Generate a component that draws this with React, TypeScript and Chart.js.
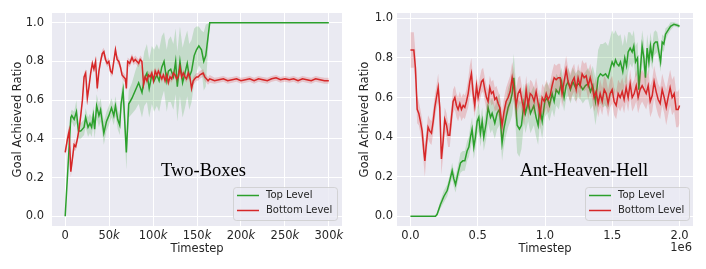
import React, { useEffect, useRef } from 'react';
import { Chart, registerables } from 'chart.js';
Chart.register(...registerables);

// ---------- Left panel: Two-Boxes (x in thousands of timesteps) ----------
const leftTopX = [0, 6.4, 7.5, 10.2, 12.8, 15.1, 17.7, 21.5, 23.3, 26, 28.2, 30.1, 32, 33.5, 35.8, 38.4, 40.3, 44, 47, 49.7, 52.7, 55.3, 57.2, 59.8, 62.1, 63.6, 65.9, 69.6, 72.3, 76, 79.8, 83.6, 87.4, 90, 93, 95.6, 98.6, 101.2, 104.3, 106.9, 109.9, 112.5, 115.6, 117.4, 120.1, 123.1, 125.7, 127.6, 130.6, 133.6, 136.3, 138.9, 141.2, 143.8, 146.8, 149.4, 152.1, 155.1, 157.7, 160, 164.5, 300];
const leftTopY = [0, 0.51, 0.52, 0.5, 0.54, 0.44, 0.44, 0.46, 0.51, 0.46, 0.48, 0.46, 0.52, 0.45, 0.57, 0.52, 0.55, 0.43, 0.49, 0.52, 0.56, 0.52, 0.57, 0.5, 0.47, 0.58, 0.65, 0.33, 0.58, 0.61, 0.65, 0.69, 0.64, 0.71, 0.74, 0.66, 0.73, 0.7, 0.73, 0.7, 0.77, 0.8, 0.7, 0.75, 0.76, 0.72, 0.8, 0.67, 0.8, 0.69, 0.74, 0.79, 0.72, 0.75, 0.83, 0.86, 0.88, 0.86, 0.8, 0.83, 1.0, 1.0];
const leftTopSd = [0, 0.03, 0.03, 0.04, 0.06, 0.04, 0.04, 0.04, 0.05, 0.05, 0.05, 0.05, 0.05, 0.05, 0.06, 0.06, 0.06, 0.06, 0.05, 0.05, 0.05, 0.05, 0.05, 0.05, 0.05, 0.05, 0.06, 0.09, 0.07, 0.08, 0.1, 0.11, 0.13, 0.14, 0.15, 0.15, 0.15, 0.16, 0.16, 0.16, 0.16, 0.15, 0.16, 0.16, 0.17, 0.17, 0.17, 0.18, 0.18, 0.18, 0.18, 0.17, 0.17, 0.16, 0.14, 0.12, 0.1, 0.1, 0.15, 0.16, 0, 0];

const leftBotX = [0, 2.6, 4.5, 6.4, 8.3, 10.2, 12.0, 13.9, 15.8, 17.7, 19.6, 21.5, 23.3, 25.2, 27.1, 29.0, 30.9, 32.7, 34.6, 36.5, 38.4, 40.3, 42.2, 44.0, 45.9, 47.8, 49.7, 51.6, 53.4, 55.3, 57.2, 59.1, 61.0, 62.9, 64.7, 66.6, 68.5, 69.6, 71.1, 73.4, 76.0, 77.9, 79.8, 81.7, 83.6, 85.4, 87.3, 89.2, 91.1, 93.0, 94.9, 96.7, 98.6, 100.5, 102.4, 104.3, 106.1, 108.0, 109.9, 111.8, 113.7, 115.6, 117.4, 119.3, 121.2, 123.1, 125.0, 126.8, 128.7, 130.6, 132.5, 134.4, 136.3, 138.1, 140.0, 141.9, 143.8, 145.7, 147.5, 149.4, 151.3, 153.2, 155.1, 157.0, 158.8, 160.7, 162.6, 164.5, 170, 175, 180, 185, 190, 195, 200, 205, 210, 215, 220, 225, 230, 235, 240, 245, 250, 255, 260, 265, 270, 275, 280, 285, 290, 295, 300];
const leftBotY = [0.33, 0.4, 0.44, 0.23, 0.3, 0.37, 0.36, 0.4, 0.45, 0.52, 0.6, 0.72, 0.74, 0.61, 0.67, 0.74, 0.79, 0.76, 0.8, 0.66, 0.75, 0.8, 0.84, 0.85, 0.81, 0.79, 0.8, 0.75, 0.74, 0.8, 0.86, 0.81, 0.8, 0.77, 0.73, 0.72, 0.71, 0.66, 0.8, 0.79, 0.82, 0.8, 0.81, 0.8, 0.79, 0.81, 0.8, 0.68, 0.72, 0.7, 0.73, 0.72, 0.74, 0.7, 0.75, 0.73, 0.75, 0.73, 0.71, 0.73, 0.7, 0.73, 0.69, 0.72, 0.71, 0.74, 0.73, 0.71, 0.72, 0.77, 0.72, 0.74, 0.72, 0.71, 0.74, 0.72, 0.66, 0.7, 0.71, 0.72, 0.72, 0.73, 0.735, 0.74, 0.72, 0.71, 0.7, 0.71, 0.7, 0.705, 0.71, 0.7, 0.705, 0.71, 0.7, 0.705, 0.71, 0.7, 0.71, 0.705, 0.7, 0.71, 0.715, 0.705, 0.71, 0.705, 0.71, 0.7, 0.71, 0.705, 0.7, 0.71, 0.705, 0.7, 0.7];
const leftBotSd = [0.02, 0.03, 0.03, 0.03, 0.03, 0.03, 0.02, 0.02, 0.02, 0.02, 0.02, 0.02, 0.02, 0.02, 0.02, 0.02, 0.02, 0.02, 0.02, 0.02, 0.02, 0.02, 0.02, 0.02, 0.02, 0.02, 0.02, 0.02, 0.02, 0.02, 0.02, 0.02, 0.02, 0.02, 0.02, 0.02, 0.02, 0.02, 0.02, 0.02, 0.02, 0.02, 0.02, 0.02, 0.02, 0.02, 0.02, 0.02, 0.02, 0.02, 0.02, 0.02, 0.02, 0.02, 0.02, 0.02, 0.02, 0.02, 0.02, 0.02, 0.02, 0.02, 0.02, 0.02, 0.02, 0.02, 0.02, 0.02, 0.02, 0.02, 0.02, 0.02, 0.02, 0.02, 0.02, 0.02, 0.02, 0.02, 0.02, 0.02, 0.02, 0.02, 0.02, 0.02, 0.02, 0.02, 0.02, 0.02, 0.015, 0.015, 0.015, 0.015, 0.015, 0.015, 0.015, 0.015, 0.015, 0.015, 0.015, 0.015, 0.015, 0.015, 0.015, 0.015, 0.015, 0.015, 0.015, 0.015, 0.015, 0.015, 0.015, 0.015, 0.015, 0.015, 0.015];

const leftXTicks = [0, 50, 100, 150, 200, 250, 300];
const yTicks = [0, 0.2, 0.4, 0.6, 0.8, 1.0];

// ---------- Right panel: Ant-Heaven-Hell (x in 1e6 timesteps) ----------
const rightTopX = [0, 0.186, 0.198, 0.223, 0.248, 0.273, 0.292, 0.310, 0.322, 0.335, 0.354, 0.372, 0.389, 0.404, 0.421, 0.434, 0.446, 0.458, 0.471, 0.483, 0.496, 0.508, 0.520, 0.533, 0.545, 0.563, 0.577, 0.595, 0.607, 0.627, 0.644, 0.662, 0.681, 0.694, 0.711, 0.726, 0.743, 0.756, 0.768, 0.781, 0.793, 0.810, 0.825, 0.843, 0.855, 0.875, 0.892, 0.917, 0.934, 0.949, 0.961, 0.979, 0.999, 1.016, 1.033, 1.053, 1.068, 1.083, 1.103, 1.123, 1.142, 1.157, 1.172, 1.189, 1.207, 1.227, 1.246, 1.264, 1.281, 1.301, 1.321, 1.338, 1.355, 1.375, 1.395, 1.412, 1.430, 1.450, 1.469, 1.487, 1.499, 1.512, 1.524, 1.536, 1.549, 1.561, 1.578, 1.593, 1.606, 1.618, 1.633, 1.648, 1.660, 1.673, 1.688, 1.697, 1.710, 1.722, 1.735, 1.747, 1.759, 1.772, 1.784, 1.797, 1.809, 1.821, 1.834, 1.846, 1.859, 1.871, 1.883, 1.896, 1.915, 1.933, 1.958, 1.982, 2.000];
const rightTopY = [0, 0, 0.01, 0.06, 0.1, 0.13, 0.18, 0.23, 0.19, 0.16, 0.22, 0.27, 0.28, 0.28, 0.33, 0.35, 0.4, 0.44, 0.35, 0.4, 0.48, 0.5, 0.42, 0.48, 0.4, 0.47, 0.55, 0.5, 0.52, 0.47, 0.52, 0.54, 0.37, 0.44, 0.5, 0.55, 0.58, 0.62, 0.7, 0.58, 0.46, 0.44, 0.46, 0.57, 0.52, 0.58, 0.52, 0.56, 0.5, 0.46, 0.55, 0.48, 0.58, 0.6, 0.56, 0.62, 0.58, 0.64, 0.62, 0.68, 0.6, 0.66, 0.68, 0.64, 0.68, 0.65, 0.67, 0.66, 0.64, 0.66, 0.67, 0.63, 0.66, 0.58, 0.7, 0.72, 0.71, 0.72, 0.7, 0.75, 0.78, 0.76, 0.79, 0.77, 0.76, 0.78, 0.73, 0.8, 0.76, 0.83, 0.85, 0.83, 0.86, 0.78, 0.8, 0.64, 0.75, 0.86, 0.8, 0.7, 0.85, 0.78, 0.86, 0.8, 0.87, 0.88, 0.88, 0.83, 0.78, 0.88, 0.87, 0.92, 0.94, 0.96, 0.97, 0.965, 0.96];
const rightTopSd = [0, 0, 0.01, 0.02, 0.03, 0.03, 0.03, 0.04, 0.04, 0.04, 0.04, 0.05, 0.05, 0.05, 0.05, 0.05, 0.06, 0.06, 0.06, 0.06, 0.07, 0.07, 0.07, 0.07, 0.07, 0.08, 0.08, 0.08, 0.08, 0.08, 0.08, 0.08, 0.09, 0.09, 0.09, 0.1, 0.1, 0.11, 0.12, 0.12, 0.14, 0.14, 0.12, 0.1, 0.1, 0.1, 0.1, 0.1, 0.1, 0.1, 0.09, 0.09, 0.08, 0.08, 0.08, 0.08, 0.08, 0.08, 0.08, 0.07, 0.07, 0.07, 0.07, 0.07, 0.07, 0.07, 0.07, 0.07, 0.07, 0.07, 0.08, 0.09, 0.1, 0.12, 0.14, 0.15, 0.16, 0.16, 0.16, 0.16, 0.16, 0.16, 0.15, 0.15, 0.15, 0.14, 0.13, 0.12, 0.11, 0.1, 0.08, 0.08, 0.08, 0.08, 0.08, 0.08, 0.08, 0.08, 0.08, 0.08, 0.07, 0.07, 0.07, 0.06, 0.06, 0.06, 0.05, 0.05, 0.05, 0.04, 0.04, 0.03, 0.02, 0.02, 0.01, 0.01, 0.01];

const rightBotX = [0.000, 0.025, 0.037, 0.050, 0.062, 0.074, 0.087, 0.099, 0.107, 0.116, 0.131, 0.144, 0.156, 0.169, 0.181, 0.193, 0.206, 0.218, 0.230, 0.243, 0.255, 0.268, 0.280, 0.292, 0.305, 0.317, 0.330, 0.342, 0.354, 0.367, 0.379, 0.392, 0.404, 0.416, 0.429, 0.441, 0.453, 0.466, 0.478, 0.491, 0.503, 0.515, 0.528, 0.540, 0.553, 0.565, 0.577, 0.590, 0.602, 0.615, 0.627, 0.639, 0.652, 0.664, 0.681, 0.696, 0.711, 0.726, 0.741, 0.756, 0.771, 0.786, 0.800, 0.815, 0.830, 0.845, 0.860, 0.875, 0.890, 0.904, 0.919, 0.934, 0.949, 0.964, 0.979, 0.994, 1.009, 1.023, 1.038, 1.053, 1.068, 1.083, 1.098, 1.113, 1.127, 1.142, 1.157, 1.172, 1.187, 1.202, 1.217, 1.232, 1.246, 1.261, 1.276, 1.291, 1.306, 1.321, 1.336, 1.350, 1.365, 1.380, 1.395, 1.410, 1.425, 1.440, 1.455, 1.469, 1.484, 1.499, 1.514, 1.529, 1.544, 1.559, 1.574, 1.588, 1.603, 1.618, 1.633, 1.648, 1.663, 1.678, 1.692, 1.707, 1.722, 1.737, 1.752, 1.767, 1.782, 1.797, 1.811, 1.826, 1.841, 1.856, 1.871, 1.886, 1.901, 1.915, 1.930, 1.945, 1.960, 1.975, 1.990, 2.000];
const rightBotY = [0.84, 0.84, 0.75, 0.54, 0.52, 0.48, 0.43, 0.33, 0.28, 0.35, 0.45, 0.43, 0.42, 0.48, 0.55, 0.6, 0.65, 0.55, 0.29, 0.38, 0.49, 0.46, 0.41, 0.41, 0.5, 0.58, 0.6, 0.56, 0.54, 0.57, 0.54, 0.56, 0.55, 0.58, 0.62, 0.68, 0.72, 0.62, 0.56, 0.66, 0.6, 0.64, 0.68, 0.69, 0.64, 0.6, 0.58, 0.65, 0.62, 0.63, 0.59, 0.6, 0.57, 0.55, 0.46, 0.53, 0.58, 0.6, 0.63, 0.7, 0.64, 0.56, 0.62, 0.64, 0.58, 0.53, 0.64, 0.56, 0.62, 0.61, 0.58, 0.63, 0.57, 0.51, 0.6, 0.58, 0.62, 0.59, 0.61, 0.66, 0.7, 0.69, 0.7, 0.7, 0.62, 0.68, 0.74, 0.68, 0.65, 0.68, 0.7, 0.64, 0.7, 0.66, 0.72, 0.7, 0.71, 0.66, 0.7, 0.66, 0.6, 0.63, 0.57, 0.62, 0.58, 0.64, 0.62, 0.57, 0.62, 0.64, 0.58, 0.56, 0.62, 0.6, 0.63, 0.59, 0.65, 0.6, 0.67, 0.6, 0.62, 0.66, 0.6, 0.64, 0.66, 0.64, 0.62, 0.66, 0.58, 0.61, 0.68, 0.63, 0.59, 0.57, 0.64, 0.6, 0.55, 0.6, 0.65, 0.6, 0.62, 0.54, 0.54, 0.56];
const rightBotSd = [0.09, 0.09, 0.08, 0.07, 0.06, 0.06, 0.06, 0.07, 0.08, 0.07, 0.06, 0.06, 0.06, 0.06, 0.06, 0.06, 0.07, 0.07, 0.08, 0.07, 0.06, 0.06, 0.06, 0.06, 0.06, 0.06, 0.06, 0.06, 0.06, 0.06, 0.06, 0.06, 0.06, 0.06, 0.07, 0.08, 0.08, 0.07, 0.06, 0.06, 0.06, 0.06, 0.06, 0.06, 0.06, 0.06, 0.06, 0.06, 0.06, 0.06, 0.06, 0.06, 0.06, 0.06, 0.07, 0.07, 0.07, 0.08, 0.08, 0.08, 0.08, 0.08, 0.08, 0.07, 0.07, 0.07, 0.07, 0.07, 0.07, 0.07, 0.07, 0.07, 0.07, 0.07, 0.07, 0.07, 0.07, 0.07, 0.07, 0.07, 0.07, 0.07, 0.07, 0.07, 0.07, 0.07, 0.07, 0.07, 0.07, 0.07, 0.07, 0.07, 0.07, 0.07, 0.07, 0.07, 0.07, 0.07, 0.07, 0.07, 0.07, 0.07, 0.07, 0.07, 0.07, 0.07, 0.07, 0.07, 0.07, 0.07, 0.07, 0.07, 0.07, 0.07, 0.07, 0.07, 0.07, 0.07, 0.07, 0.07, 0.07, 0.08, 0.08, 0.08, 0.08, 0.08, 0.08, 0.08, 0.08, 0.08, 0.08, 0.08, 0.08, 0.08, 0.08, 0.08, 0.09, 0.09, 0.09, 0.09, 0.09, 0.09, 0.09, 0.09];

const rightXTicks = [0, 0.5, 1.0, 1.5, 2.0];

const seriesNames = ['Top Level', 'Bottom Level'];

// ---------- styling ----------
const GREEN = 'rgb(44,160,44)';
const RED = 'rgb(214,39,40)';
const GREEN_BAND = 'rgba(44,160,44,0.2)';
const RED_BAND = 'rgba(214,39,40,0.2)';
const TEXT = '#262626';
const FAM = '"DejaVu Sans", sans-serif';
const FS = 11.5;
const LW = 1.5;

function bandDatasets(xs: number[], ys: number[], sds: number[], color: string, band: string, label: string, base: number) {
  const line = xs.map((x, i) => ({ x, y: ys[i] }));
  const up = xs.map((x, i) => ({ x, y: ys[i] + sds[i] }));
  const lo = xs.map((x, i) => ({ x, y: ys[i] - sds[i] }));
  return [
    { label: label + ' upper', data: up, borderColor: 'transparent', borderWidth: 0, pointRadius: 0, fill: false, order: base + 1 },
    { label: label + ' lower', data: lo, borderColor: 'transparent', borderWidth: 0, pointRadius: 0, fill: '-1', backgroundColor: band, order: base + 1 },
    { label, data: line, borderColor: color, borderWidth: LW, pointRadius: 0, fill: false, order: base },
  ];
}

const bgPlugin = {
  id: 'plotBg',
  beforeDraw(chart: any) {
    const { ctx, chartArea: a } = chart;
    ctx.save();
    ctx.fillStyle = '#EAEAF2';
    ctx.fillRect(a.left, a.top, a.right - a.left, a.bottom - a.top);
    ctx.restore();
  },
};

function makeOverlay(opts: { annot: string; annotDx: number; legendRight: number; kTicks: boolean; offsetText: string }) {
  return {
    id: 'overlay',
    afterDraw(chart: any) {
      const { ctx, chartArea: a } = chart;
      ctx.save();
      // annotation
      ctx.fillStyle = '#000';
      ctx.font = '18.5px "Liberation Serif", serif';
      ctx.textAlign = 'left';
      ctx.textBaseline = 'alphabetic';
      ctx.fillText(opts.annot, a.left + opts.annotDx, 176);
      // legend
      const w = 104, h = 33;
      const x0 = a.right - opts.legendRight - w;
      const y0 = a.bottom - 6 - h;
      ctx.beginPath();
      (ctx as any).roundRect(x0 + 0.5, y0 + 0.5, w, h, 3);
      ctx.fillStyle = 'rgba(234,234,242,0.8)';
      ctx.fill();
      ctx.strokeStyle = 'rgba(204,204,204,0.8)';
      ctx.lineWidth = 1;
      ctx.stroke();
      const cols = [GREEN, RED];
      ctx.font = '10px ' + FAM;
      ctx.textBaseline = 'middle';
      seriesNames.forEach((name, i) => {
        const yy = y0 + 8.5 + i * 15;
        ctx.strokeStyle = cols[i];
        ctx.lineWidth = LW;
        ctx.beginPath();
        ctx.moveTo(x0 + 4, yy);
        ctx.lineTo(x0 + 26, yy);
        ctx.stroke();
        ctx.fillStyle = TEXT;
        ctx.fillText(name, x0 + 33, yy);
      });
      // k tick labels
      if (opts.kTicks) {
        const sx = chart.scales.x;
        const yy = a.bottom + 10;
        const normal = FS + 'px ' + FAM;
        const ital = 'italic ' + FS + 'px ' + FAM;
        ctx.fillStyle = TEXT;
        ctx.textAlign = 'left';
        ctx.textBaseline = 'middle';
        leftXTicks.forEach((v) => {
          const px = sx.getPixelForValue(v);
          const num = String(v);
          const suf = v === 0 ? '' : 'k';
          ctx.font = normal;
          const w1 = ctx.measureText(num).width;
          ctx.font = ital;
          const w2 = suf ? ctx.measureText(suf).width : 0;
          const sx0 = px - (w1 + w2) / 2;
          ctx.font = normal;
          ctx.fillText(num, sx0, yy);
          if (suf) {
            ctx.font = ital;
            ctx.fillText(suf, sx0 + w1, yy);
          }
        });
      }
      if (opts.offsetText) {
        ctx.font = FS + 'px ' + FAM;
        ctx.fillStyle = TEXT;
        ctx.textAlign = 'right';
        ctx.textBaseline = 'middle';
        ctx.fillText(opts.offsetText, a.right - 1, 248);
      }
      ctx.restore();
    },
  };
}

function makeChart(canvas: HTMLCanvasElement, cfg: any) {
  const font = { family: FAM, size: FS };
  return new Chart(canvas, {
    type: 'line',
    data: { datasets: cfg.datasets },
    options: {
      animation: false,
      responsive: false,
      events: [],
      layout: { padding: { left: 0, top: 13, right: cfg.padRight, bottom: 0 } },
      plugins: { legend: { display: false }, tooltip: { enabled: false } },
      scales: {
        x: {
          type: 'linear',
          min: cfg.xMin,
          max: cfg.xMax,
          afterBuildTicks: (s: any) => { s.ticks = cfg.xTicks.map((v: number) => ({ value: v })); },
          afterFit: (s: any) => { s.height = 43; s.paddingLeft = 0; s.paddingRight = 0; },
          grid: { color: '#ffffff', lineWidth: 1, drawTicks: false },
          border: { display: false },
          ticks: {
            display: !cfg.kTicks,
            padding: 3,
            font,
            color: TEXT,
            maxRotation: 0,
            autoSkip: false,
            callback: (v: any) => Number(v).toFixed(1),
          },
          title: { display: true, text: 'Timestep', font, color: TEXT, padding: { top: 0, bottom: 13 } },
        },
        y: {
          type: 'linear',
          min: cfg.yMin,
          max: cfg.yMax,
          afterBuildTicks: (s: any) => { s.ticks = yTicks.map((v) => ({ value: v })); },
          afterFit: (s: any) => { s.width = cfg.yWidth; s.paddingTop = 0; s.paddingBottom = 0; },
          grid: { color: '#ffffff', lineWidth: 1, drawTicks: false },
          border: { display: false },
          ticks: { padding: cfg.yTickPad, font, color: TEXT, autoSkip: false, callback: (v: any) => Number(v).toFixed(1) },
          title: { display: true, text: 'Goal Achieved Ratio', font, color: TEXT, padding: { top: cfg.yTitlePad, bottom: 0 } },
        },
      },
    } as any,
    plugins: [bgPlugin, makeOverlay(cfg.overlay)],
  });
}

export default function App() {
  const leftRef = useRef<HTMLCanvasElement>(null);
  const rightRef = useRef<HTMLCanvasElement>(null);

  useEffect(() => {
    const left = makeChart(leftRef.current!, {
      datasets: [
        ...bandDatasets(leftBotX, leftBotY, leftBotSd, RED, RED_BAND, seriesNames[1], 0),
        ...bandDatasets(leftTopX, leftTopY, leftTopSd, GREEN, GREEN_BAND, seriesNames[0], 2),
      ],
      padRight: 11,
      xMin: -15,
      xMax: 315,
      xTicks: leftXTicks,
      yMin: -0.05,
      yMax: 1.05,
      yWidth: 52,
      yTickPad: 8,
      yTitlePad: 11,
      kTicks: true,
      overlay: { annot: 'Two-Boxes', annotDx: 109, legendRight: 5, kTicks: true, offsetText: '' },
    });
    const right = makeChart(rightRef.current!, {
      datasets: [
        ...bandDatasets(rightBotX, rightBotY, rightBotSd, RED, RED_BAND, seriesNames[1], 0),
        ...bandDatasets(rightTopX, rightTopY, rightTopSd, GREEN, GREEN_BAND, seriesNames[0], 2),
      ],
      padRight: 13,
      xMin: -0.1,
      xMax: 2.1,
      xTicks: rightXTicks,
      yMin: -0.049,
      yMax: 1.027,
      yWidth: 44,
      yTickPad: 4,
      yTitlePad: 5,
      kTicks: false,
      overlay: { annot: 'Ant-Heaven-Hell', annotDx: 122.7, legendRight: 4, kTicks: false, offsetText: '1e6' },
    });
    return () => {
      left.destroy();
      right.destroy();
    };
  }, []);

  return (
    <div style={{ position: 'absolute', left: 0, top: 0, width: 706, height: 269, background: '#fff', display: 'flex' }}>
      <canvas ref={leftRef} width={353} height={269} style={{ width: 353, height: 269, display: 'block' }} />
      <canvas ref={rightRef} width={353} height={269} style={{ width: 353, height: 269, display: 'block' }} />
    </div>
  );
}
